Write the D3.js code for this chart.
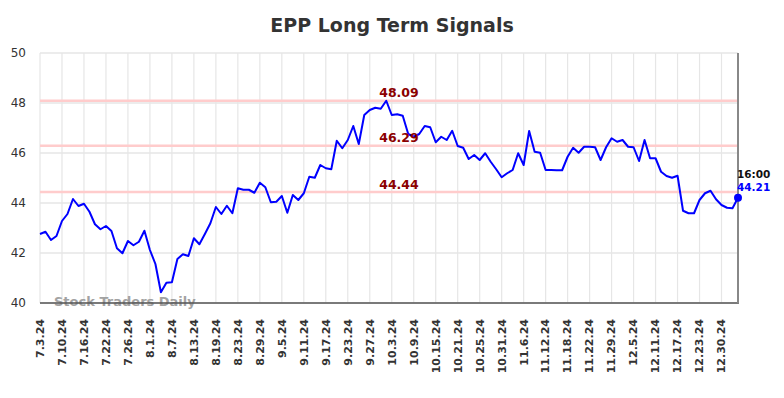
<!DOCTYPE html>
<html>
<head>
<meta charset="utf-8">
<script src="https://cdn.jsdelivr.net/npm/d3@7"></script>
<style>
  html, body { margin: 0; padding: 0; background: #fff; }
  svg { display: block; font-family: "DejaVu Sans", sans-serif; }
</style>
</head>
<body>
<svg id="chart" width="784" height="398"></svg>
<script>
const title = "EPP Long Term Signals";
const tickLabels = ["7.3.24","7.10.24","7.16.24","7.22.24","7.26.24","8.1.24","8.7.24","8.13.24",
  "8.19.24","8.23.24","8.29.24","9.5.24","9.11.24","9.17.24","9.23.24","9.27.24","10.3.24",
  "10.9.24","10.15.24","10.21.24","10.25.24","10.31.24","11.6.24","11.12.24","11.18.24",
  "11.22.24","11.29.24","12.5.24","12.11.24","12.17.24","12.23.24","12.30.24"];
const tickStep = 4;
const prices = [
  42.76,42.85,42.52,42.68,43.28,43.56,44.16,43.88,43.97,43.65,
  43.15,42.95,43.08,42.88,42.19,41.99,42.48,42.31,42.45,42.89,
  42.12,41.56,40.43,40.81,40.83,41.76,41.95,41.88,42.59,42.35,
  42.76,43.19,43.84,43.56,43.89,43.59,44.59,44.53,44.53,44.41,
  44.81,44.63,44.03,44.05,44.28,43.61,44.32,44.12,44.39,45.05,
  45.01,45.52,45.39,45.35,46.49,46.19,46.52,47.08,46.36,47.52,
  47.72,47.81,47.77,48.09,47.52,47.55,47.49,46.76,46.65,46.76,
  47.08,47.03,46.43,46.65,46.52,46.89,46.28,46.21,45.76,45.92,
  45.72,45.99,45.65,45.35,45.03,45.19,45.32,45.99,45.52,46.88,
  46.05,46.01,45.32,45.32,45.31,45.31,45.85,46.21,46.01,46.25,
  46.25,46.23,45.72,46.23,46.59,46.45,46.52,46.25,46.23,45.68,
  46.52,45.79,45.79,45.25,45.08,45.01,45.09,43.69,43.59,43.59,
  44.12,44.39,44.49,44.15,43.92,43.81,43.79,44.21];
const signals = [48.09, 46.29, 44.44];
const yTicks = [40, 42, 44, 46, 48, 50];
const lastTime = "16:00";
const watermark = "Stock Traders Daily";

const svg = d3.select("#chart");
const m = {left: 40, right: 738, top: 53, bottom: 303};

const x = d3.scaleLinear().domain([0, prices.length - 1]).range([m.left, m.right]);
const y = d3.scaleLinear().domain([40, 50]).range([m.bottom, m.top]);

// horizontal grid
svg.append("g").selectAll("line").data(yTicks).join("line")
  .attr("x1", m.left).attr("x2", m.right)
  .attr("y1", d => y(d)).attr("y2", d => y(d))
  .attr("stroke", "#e6e6e6").attr("stroke-width", 1.5);

// vertical grid
const tickIdx = tickLabels.map((_, i) => i * tickStep);
svg.append("g").selectAll("line").data(tickIdx).join("line")
  .attr("x1", d => x(d)).attr("x2", d => x(d))
  .attr("y1", m.top).attr("y2", m.bottom)
  .attr("stroke", "#e6e6e6").attr("stroke-width", 1.2);

// signal lines
svg.append("g").selectAll("line").data(signals).join("line")
  .attr("x1", m.left).attr("x2", m.right)
  .attr("y1", d => y(d)).attr("y2", d => y(d))
  .attr("stroke", "#ffcccc").attr("stroke-width", 2.5);

// y axis labels
svg.append("g").selectAll("text").data(yTicks).join("text")
  .attr("x", 26).attr("y", d => y(d)).attr("dy", "0.35em")
  .attr("text-anchor", "end").attr("font-size", 12).attr("fill", "#333")
  .text(d => d);

// x axis labels
svg.append("g").selectAll("text").data(tickIdx).join("text")
  .attr("transform", d => `translate(${x(d)},319) rotate(-90)`)
  .attr("dy", "0.35em").attr("text-anchor", "end")
  .attr("font-size", 11).attr("font-weight", "bold").attr("fill", "#333")
  .text((d, i) => tickLabels[i]);

// watermark
svg.append("text").attr("x", 54).attr("y", 306)
  .attr("font-size", 13).attr("font-weight", "bold").attr("fill", "#999").attr("opacity", 0.9)
  .text(watermark);

// bottom axis line
svg.append("line").attr("x1", m.left).attr("x2", m.right + 1)
  .attr("y1", m.bottom).attr("y2", m.bottom)
  .attr("stroke", "#555").attr("stroke-width", 1.5);

// right border
svg.append("line").attr("x1", m.right).attr("x2", m.right)
  .attr("y1", m.top).attr("y2", m.bottom)
  .attr("stroke", "#888").attr("stroke-width", 2);

// price line
const line = d3.line().x((d, i) => x(i)).y(d => y(d));
svg.append("path").datum(prices)
  .attr("d", line).attr("fill", "none")
  .attr("stroke", "#0000ff").attr("stroke-width", 2).attr("stroke-linejoin", "round");

// signal labels
svg.append("g").selectAll("text").data(signals).join("text")
  .attr("x", 399).attr("y", d => y(d) - 3.5)
  .attr("text-anchor", "middle").attr("font-size", 12.5).attr("font-weight", "bold")
  .attr("fill", "#8b0000")
  .text(d => d.toFixed(2));

// end point
const li = prices.length - 1;
svg.append("circle").attr("cx", x(li)).attr("cy", y(prices[li])).attr("r", 4).attr("fill", "#0000ff");
svg.append("text").attr("x", x(li) - 1).attr("y", y(prices[li]) - 20)
  .attr("font-size", 10.5).attr("font-weight", "bold").attr("fill", "#111").text(lastTime);
svg.append("text").attr("x", x(li) - 1).attr("y", y(prices[li]) - 7)
  .attr("font-size", 10.5).attr("font-weight", "bold").attr("fill", "#0000ff").text(prices[li].toFixed(2));

// title
svg.append("text").attr("x", 392).attr("y", 32).attr("text-anchor", "middle")
  .attr("font-size", 19).attr("font-weight", "bold").attr("fill", "#333").text(title);
</script>
</body>
</html>
